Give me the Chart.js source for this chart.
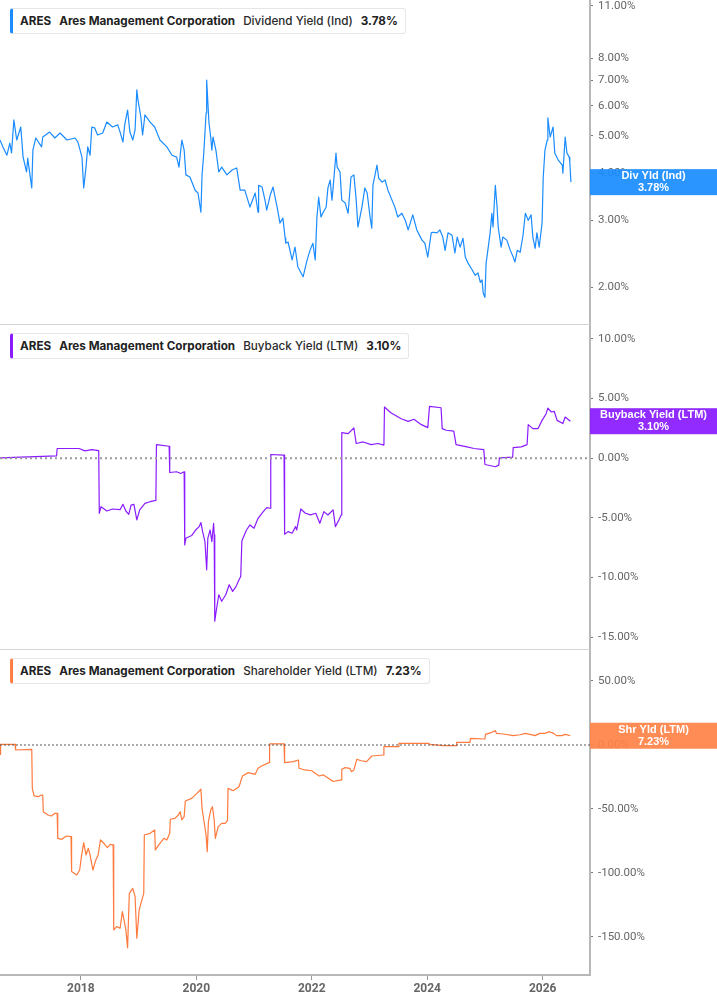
<!DOCTYPE html>
<html>
<head>
<meta charset="utf-8">
<script src="https://cdn.jsdelivr.net/npm/chart.js@4.4.1/dist/chart.umd.min.js"></script>
<style>
  html, body { margin: 0; padding: 0; background: #fff; }
  body { width: 717px; height: 1005px; position: relative; overflow: hidden; font-family: Inter, sans-serif; }
  canvas { position: absolute; left: 0; }
  .divider { position: absolute; left: 0; width: 590px; height: 1px; background: #d4d4d4; z-index: 1; }
  .legend {
    position: absolute; left: 10px; height: 24px; display: flex; align-items: center;
    background: #fff; border: 1px solid #e6e6e6; border-left: 3px solid; border-radius: 3px;
    padding: 0 7px 0 7px; font-size: 11.7px; color: #222; white-space: nowrap; z-index: 2;
  }
  .legend span { margin-right: 8px; font-weight: 700; }
  .legend span.metric { font-weight: 500; color: #2a2a2a; }
  .legend span:last-child { margin-right: 0; }
</style>
</head>
<body>

<canvas id="divChart" width="717" height="324" style="top:0"></canvas>
<canvas id="buyChart" width="717" height="325" style="top:324px"></canvas>
<canvas id="shrChart" width="717" height="356" style="top:649px"></canvas>

<div class="divider" style="top:324px"></div>
<div class="divider" style="top:649px"></div>

<div class="legend" style="top:8px; border-left-color:#1a8cff">
  <span>ARES</span><span>Ares Management Corporation</span><span class="metric">Dividend Yield (Ind)</span><span>3.78%</span>
</div>
<div class="legend" style="top:333px; border-left-color:#8a1bff">
  <span>ARES</span><span>Ares Management Corporation</span><span class="metric">Buyback Yield (LTM)</span><span>3.10%</span>
</div>
<div class="legend" style="top:658px; border-left-color:#ff7f45">
  <span>ARES</span><span>Ares Management Corporation</span><span class="metric">Shareholder Yield (LTM)</span><span>7.23%</span>
</div>

<script>
// ---- data (decimal years, percent) ----
const xMin = 2016.6;
const xMax = 2026.82;
const yearTicks = [2018, 2020, 2022, 2024, 2026];

const divTicks = [2, 3, 4, 5, 6, 7, 8, 11];
const buyTicks = [-15, -10, -5, 0, 5, 10];
const shrTicks = [-150, -100, -50, 0, 50];

const divYears = [
  2016.60,2016.65,2016.72,2016.77,2016.80,2016.84,2016.89,2016.96,2017.00,2017.06,
  2017.08,2017.15,2017.17,2017.22,2017.32,2017.34,2017.46,2017.55,2017.64,2017.76,
  2017.90,2017.95,2018.02,2018.05,2018.09,2018.12,2018.16,2018.19,2018.24,2018.29,
  2018.38,2018.45,2018.55,2018.64,2018.68,2018.73,2018.76,2018.81,2018.85,2018.90,
  2018.94,2018.97,2018.99,2019.04,2019.07,2019.11,2019.20,2019.28,2019.37,2019.49,
  2019.58,2019.66,2019.70,2019.75,2019.79,2019.82,2019.89,2019.98,2020.03,2020.08,
  2020.10,2020.13,2020.17,2020.18,2020.22,2020.25,2020.27,2020.29,2020.34,2020.39,
  2020.44,2020.53,2020.62,2020.70,2020.76,2020.84,2020.93,2021.02,2021.07,2021.08,
  2021.14,2021.19,2021.22,2021.28,2021.33,2021.40,2021.45,2021.50,2021.54,2021.55,
  2021.59,2021.66,2021.71,2021.76,2021.85,2021.92,2021.97,2022.02,2022.06,2022.09,
  2022.12,2022.16,2022.19,2022.25,2022.28,2022.32,2022.35,2022.37,2022.42,2022.44,
  2022.49,2022.52,2022.58,2022.63,2022.68,2022.73,2022.77,2022.80,2022.87,2022.92,
  2022.96,2023.01,2023.04,2023.06,2023.13,2023.16,2023.22,2023.27,2023.32,2023.39,
  2023.44,2023.49,2023.56,2023.62,2023.67,2023.75,2023.82,2023.91,2023.96,2024.01,
  2024.07,2024.10,2024.17,2024.22,2024.27,2024.31,2024.36,2024.43,2024.48,2024.52,
  2024.57,2024.62,2024.66,2024.71,2024.78,2024.83,2024.88,2024.92,2024.95,2024.97,
  2025.00,2025.02,2025.05,2025.09,2025.12,2025.14,2025.18,2025.21,2025.23,2025.28,
  2025.31,2025.38,2025.44,2025.49,2025.52,2025.56,2025.61,2025.66,2025.70,2025.75,
  2025.80,2025.83,2025.87,2025.90,2025.94,2025.99,2026.01,2026.04,2026.08,2026.09,
  2026.13,2026.18,2026.21,2026.27,2026.34,2026.35,2026.39,2026.42,2026.46,2026.47,
  2026.49
];
const divValues = [
  4.88,4.68,4.45,4.79,4.51,5.51,4.88,5.28,4.40,4.02,
  4.37,3.65,4.59,4.94,4.68,4.97,5.12,4.94,5.09,4.88,
  4.94,4.82,4.40,3.65,4.14,4.68,4.45,5.28,5.25,5.03,
  5.09,5.44,5.28,5.35,5.12,4.82,5.35,5.85,5.12,4.88,
  5.19,6.61,6.22,5.61,5.03,5.68,5.44,5.28,4.88,4.68,
  4.45,4.40,4.14,4.88,4.59,3.95,3.90,3.60,3.54,3.15,
  3.95,4.51,5.75,7.02,5.41,4.97,4.59,4.97,4.59,4.02,
  4.14,3.95,4.07,4.12,3.60,3.60,3.25,3.54,3.15,3.71,
  3.67,3.39,3.19,3.49,3.67,3.25,2.95,3.04,2.69,2.61,
  2.63,2.36,2.55,2.26,2.13,2.36,2.50,2.61,2.36,3.06,
  3.45,3.06,3.13,3.25,3.65,3.83,3.39,3.65,4.51,4.14,
  4.02,3.39,3.33,3.13,3.90,3.95,3.39,2.88,3.25,3.65,
  3.54,3.06,2.86,3.71,4.19,3.87,3.78,3.83,3.60,3.39,
  3.25,3.06,3.13,3.00,2.83,3.10,2.83,2.66,2.61,2.40,
  2.78,2.79,2.78,2.83,2.71,2.50,2.78,2.74,2.46,2.71,
  2.55,2.69,2.40,2.31,2.22,2.15,2.18,2.06,2.09,1.93,
  1.88,2.31,2.50,2.78,3.13,2.88,3.71,3.25,2.88,2.55,
  2.71,2.66,2.50,2.40,2.33,2.50,2.47,2.74,3.13,3.00,
  3.10,2.71,2.53,2.78,2.55,2.95,3.90,4.59,4.88,5.58,
  4.97,5.28,4.51,4.32,4.19,3.99,4.97,4.51,4.40,4.27,
  3.78
];

const buyYears = [
  2016.60,2017.58,2017.59,2017.97,2018.07,2018.19,2018.31,2018.32,2018.35,2018.45,
  2018.55,2018.68,2018.73,2018.78,2018.83,2018.87,2018.92,2018.97,2019.02,2019.11,
  2019.20,2019.30,2019.31,2019.53,2019.54,2019.66,2019.73,2019.79,2019.80,2019.82,
  2019.92,2019.99,2020.05,2020.08,2020.11,2020.15,2020.18,2020.20,2020.24,2020.27,
  2020.30,2020.31,2020.32,2020.34,2020.39,2020.44,2020.51,2020.57,2020.63,2020.69,
  2020.74,2020.77,2020.79,2020.87,2020.93,2021.00,2021.07,2021.16,2021.22,2021.28,
  2021.29,2021.52,2021.53,2021.59,2021.66,2021.72,2021.74,2021.81,2021.89,2021.98,
  2022.07,2022.14,2022.21,2022.28,2022.37,2022.41,2022.47,2022.51,2022.52,2022.63,
  2022.73,2022.77,2022.89,2023.03,2023.15,2023.25,2023.26,2023.37,2023.55,2023.67,
  2023.77,2023.90,2024.01,2024.04,2024.24,2024.26,2024.33,2024.46,2024.50,2024.69,
  2024.81,2024.98,2025.00,2025.18,2025.24,2025.25,2025.48,2025.49,2025.63,2025.73,
  2025.75,2025.83,2025.92,2025.99,2026.06,2026.09,2026.15,2026.20,2026.25,2026.35,
  2026.39,2026.48
];
const buyValues = [
  0.02,0.20,0.81,0.81,0.61,0.72,0.64,-4.62,-4.07,-4.43,
  -4.26,-4.32,-3.87,-4.43,-4.71,-3.93,-3.87,-5.18,-4.34,-3.79,
  -3.65,-3.54,1.14,1.00,-1.20,-1.14,-1.28,-1.14,-7.27,-6.71,
  -6.49,-6.02,-5.74,-5.40,-6.16,-6.99,-9.36,-6.71,-6.02,-6.99,
  -5.46,-6.43,-13.67,-12.98,-11.45,-12.00,-11.45,-10.61,-11.17,-10.75,
  -10.19,-9.92,-6.93,-6.02,-5.60,-5.87,-5.04,-4.48,-4.15,-4.20,
  0.31,0.25,-6.38,-6.16,-6.29,-5.74,-6.02,-4.26,-4.62,-4.76,
  -4.62,-5.46,-4.48,-4.76,-4.34,-5.74,-5.18,-4.76,2.14,2.06,
  2.53,1.23,1.36,1.14,1.23,1.09,4.29,3.81,3.31,3.09,
  3.26,2.81,2.56,4.34,4.23,2.48,2.34,2.26,1.14,0.95,
  0.81,0.72,-0.53,-0.72,-0.58,0.03,0.08,0.89,0.95,1.14,
  2.81,2.48,2.48,3.17,3.73,4.20,3.87,3.93,3.17,2.90,
  3.45,3.10
];

const shrYears = [
  2016.60,2016.61,2016.86,2016.87,2017.15,2017.16,2017.19,2017.26,2017.32,2017.34,
  2017.35,2017.43,2017.49,2017.55,2017.59,2017.60,2017.67,2017.75,2017.83,2017.84,
  2017.93,2017.98,2018.01,2018.05,2018.09,2018.13,2018.16,2018.21,2018.26,2018.30,
  2018.34,2018.40,2018.46,2018.51,2018.56,2018.57,2018.62,2018.68,2018.72,2018.76,
  2018.78,2018.81,2018.84,2018.90,2018.94,2018.97,2019.01,2019.05,2019.09,2019.10,
  2019.20,2019.28,2019.29,2019.37,2019.44,2019.49,2019.54,2019.55,2019.63,2019.69,
  2019.72,2019.75,2019.79,2019.81,2019.92,2020.01,2020.08,2020.10,2020.13,2020.17,
  2020.19,2020.21,2020.25,2020.28,2020.31,2020.33,2020.38,2020.44,2020.50,2020.54,
  2020.55,2020.64,2020.74,2020.80,2020.90,2021.02,2021.07,2021.13,2021.26,2021.27,
  2021.52,2021.53,2021.68,2021.77,2021.78,2021.88,2022.00,2022.06,2022.13,2022.20,
  2022.29,2022.37,2022.51,2022.52,2022.58,2022.66,2022.69,2022.73,2022.78,2022.86,
  2022.95,2023.04,2023.24,2023.25,2023.50,2023.51,2024.02,2024.05,2024.28,2024.50,
  2024.51,2024.74,2024.75,2025.00,2025.01,2025.12,2025.18,2025.20,2025.32,2025.49,
  2025.61,2025.70,2025.78,2025.87,2025.95,2026.04,2026.12,2026.19,2026.24,2026.33,
  2026.39,2026.48
];
const shrValues = [
  -7.3,0.5,0.5,-3.9,-3.4,-33.9,-39.8,-40.4,-39.1,-39.1,
  -52.1,-54.7,-55.5,-53.4,-53.4,-72.9,-73.7,-71.1,-71.6,-98.9,
  -101.6,-97.7,-87.2,-76.3,-85.9,-80.7,-85.9,-97.7,-89.8,-85.9,
  -74.2,-76.8,-80.2,-77.6,-78.1,-144.5,-141.9,-143.2,-130.2,-139.3,
  -144.5,-158.3,-115.9,-112.0,-118.5,-151.0,-128.9,-122.4,-115.9,-70.3,
  -69.0,-66.4,-82.0,-76.8,-72.9,-74.2,-69.0,-58.0,-57.3,-54.7,
  -52.1,-58.6,-56.0,-43.8,-41.7,-37.8,-34.6,-49.5,-58.6,-70.3,
  -83.3,-59.9,-50.8,-48.2,-58.6,-72.9,-63.8,-61.2,-61.2,-59.1,
  -33.9,-35.7,-32.6,-24.2,-21.6,-22.9,-18.2,-16.4,-13.8,0.8,
  0.8,-13.8,-13.0,-11.7,-18.2,-19.5,-20.1,-22.1,-24.2,-23.4,
  -26.0,-28.5,-27.3,-19.0,-17.7,-18.2,-20.8,-19.5,-11.2,-12.3,
  -13.0,-8.6,-7.8,-1.3,-1.3,1.3,1.3,0.5,-0.5,-0.5,
  2.1,2.1,5.2,4.7,8.3,9.9,11.2,9.1,8.6,7.3,
  8.0,9.1,8.3,7.3,9.1,9.1,10.4,9.1,7.3,7.3,
  8.3,7.23
];

// ---- helpers ----
const toPoints = (xs, ys) => xs.map((x, i) => ({ x, y: ys[i] }));
const pct = v => Number(v).toFixed(2) + '%';

// value box drawn in the right axis strip at the last value
const badgePlugin = {
  id: 'badge',
  afterDraw(chart, args, o) {
    const { ctx, chartArea } = chart;
    const y = chart.scales.y.getPixelForValue(o.value);
    const left = chartArea.right;
    const w = chart.width - left;
    ctx.save();
    ctx.globalAlpha = 0.93;
    ctx.fillStyle = o.color;
    ctx.fillRect(left, y - 13, w, 26);
    ctx.globalAlpha = 1;
    ctx.fillStyle = '#fff';
    ctx.font = 'bold 11px "Liberation Sans", Arial, sans-serif';
    ctx.textAlign = 'center';
    ctx.textBaseline = 'middle';
    ctx.fillText(o.label, left + w / 2, y - 6);
    ctx.fillText(pct(o.value), left + w / 2, y + 6);
    ctx.restore();
  }
};

function yAxis(type, min, max, ticks) {
  return {
    type, position: 'right', min, max,
    afterBuildTicks: s => { s.ticks = ticks.map(v => ({ value: v })); },
    afterFit: s => { s.width = 127; s.paddingTop = 0; s.paddingBottom = 0; },
    border: { display: true, color: '#b8b8b8', width: 2 },
    grid: { display: true, drawOnChartArea: false, drawTicks: true, tickLength: 3, color: '#777' },
    ticks: {
      color: '#666', padding: 5, autoSkip: false,
      font: { family: 'Roboto', size: 11.5 },
      callback: v => pct(v)
    }
  };
}

function xAxis(show) {
  return {
    type: 'linear', min: xMin, max: xMax, display: show,
    afterBuildTicks: s => { s.ticks = yearTicks.map(v => ({ value: v })); },
    afterFit: s => {
      s.height = show ? 30 : 0;
      s.paddingLeft = 0; s.paddingRight = 0;
    },
    border: { display: true, color: '#b8b8b8', width: 2 },
    grid: { display: true, drawOnChartArea: false, tickLength: 5, color: '#999' },
    ticks: {
      color: '#666', padding: 2, autoSkip: false, maxRotation: 0,
      font: { family: 'Roboto', size: 12, weight: 'bold' },
      callback: v => String(v)
    }
  };
}

function lineSet(points, color) {
  return {
    data: points, borderColor: color, borderWidth: 1.2,
    pointRadius: 0, tension: 0, fill: false, borderJoinStyle: 'round'
  };
}

function zeroSet(color, dash, width) {
  return {
    data: [{ x: xMin, y: 0 }, { x: xMax, y: 0 }], borderColor: color,
    borderWidth: width, borderDash: dash, pointRadius: 0, fill: false
  };
}

function makeChart(id, datasets, y, showX, badge) {
  return new Chart(document.getElementById(id), {
    type: 'line',
    data: { datasets },
    options: {
      responsive: false, animation: false, events: [],
      layout: { padding: 0 },
      plugins: { legend: { display: false }, tooltip: { enabled: false }, badge },
      scales: { x: xAxis(showX), y }
    },
    plugins: [badgePlugin]
  });
}

makeChart('divChart',
  [lineSet(toPoints(divYears, divValues), '#1a8cff')],
  yAxis('logarithmic', 1.6, 11.4, divTicks), false,
  { label: 'Div Yld (Ind)', value: divValues[divValues.length - 1], color: '#1a8cff' });

makeChart('buyChart',
  [zeroSet('#9a9a9a', [2, 3], 2), lineSet(toPoints(buyYears, buyValues), '#8a1bff')],
  yAxis('linear', -16, 11.25, buyTicks), false,
  { label: 'Buyback Yield (LTM)', value: buyValues[buyValues.length - 1], color: '#8a1bff' });

makeChart('shrChart',
  [zeroSet('#555', [2, 2], 1), lineSet(toPoints(shrYears, shrValues), '#ff7a3d')],
  yAxis('linear', -179.7, 75, shrTicks), true,
  { label: 'Shr Yld (LTM)', value: shrValues[shrValues.length - 1], color: '#ff8248' });
</script>
</body>
</html>
